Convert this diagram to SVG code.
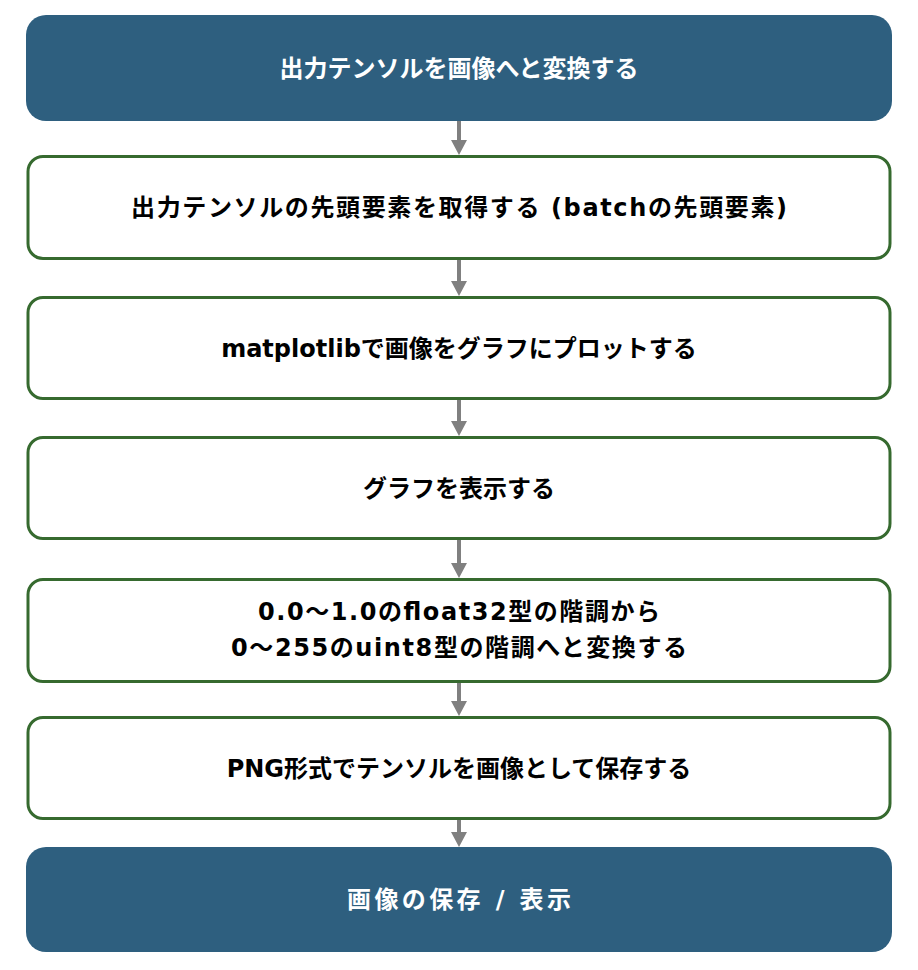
<svg xmlns="http://www.w3.org/2000/svg" width="918" height="970" viewBox="0 0 918 970">
<defs>
<style>
.dark{fill:#2e5f7f;}
.light{fill:#ffffff;stroke:#366a2f;stroke-width:3;}
text{font-family:"DejaVu Sans","Noto Sans CJK JP",sans-serif;font-weight:bold;font-size:24px;text-anchor:middle;dominant-baseline:central;}
.w{fill:#ffffff;}
.b{fill:#000000;}
.conn line{stroke:#808080;stroke-width:4;}
.conn polygon{fill:#808080;}
</style>
</defs>
<rect width="918" height="970" fill="#ffffff"/>
<g class="conn">
<line x1="459" y1="121" x2="459" y2="142"/><polygon points="451,140 467,140 459,155"/>
<line x1="459" y1="260" x2="459" y2="283"/><polygon points="451,281 467,281 459,296"/>
<line x1="459" y1="400" x2="459" y2="423"/><polygon points="451,421 467,421 459,436"/>
<line x1="459" y1="540" x2="459" y2="565"/><polygon points="451,563 467,563 459,578"/>
<line x1="459" y1="683" x2="459" y2="703"/><polygon points="451,701 467,701 459,716"/>
<line x1="459" y1="820" x2="459" y2="834"/><polygon points="451,832 467,832 459,847"/>
</g>
<g id="n1"><rect class="dark" x="26" y="15" width="866" height="106" rx="20"/><text class="w" x="459" y="69">出力テンソルを画像へと変換する</text></g>
<g id="n2"><rect class="light" x="28" y="156.5" width="862" height="102" rx="15"/><text class="b" x="459" y="208" textLength="656">出力テンソルの先頭要素を取得する (batchの先頭要素)</text></g>
<g id="n3"><rect class="light" x="28" y="297.5" width="862" height="101" rx="15"/><text class="b" x="459" y="349">matplotlibで画像をグラフにプロットする</text></g>
<g id="n4"><rect class="light" x="28" y="437.5" width="862" height="101" rx="15"/><text class="b" x="459" y="489">グラフを表示する</text></g>
<g id="n5"><rect class="light" x="28" y="579.5" width="862" height="102" rx="15"/><text class="b" x="459" y="612" textLength="402">0.0〜1.0のfloat32型の階調から</text><text class="b" x="459" y="648" textLength="456">0〜255のuint8型の階調へと変換する</text></g>
<g id="n6"><rect class="light" x="28" y="717.5" width="862" height="101" rx="15"/><text class="b" x="459" y="769">PNG形式でテンソルを画像として保存する</text></g>
<g id="n7"><rect class="dark" x="26" y="847" width="866" height="105" rx="20"/><text class="w" x="459" y="900" textLength="224">画像の保存 / 表示</text></g>
</svg>
